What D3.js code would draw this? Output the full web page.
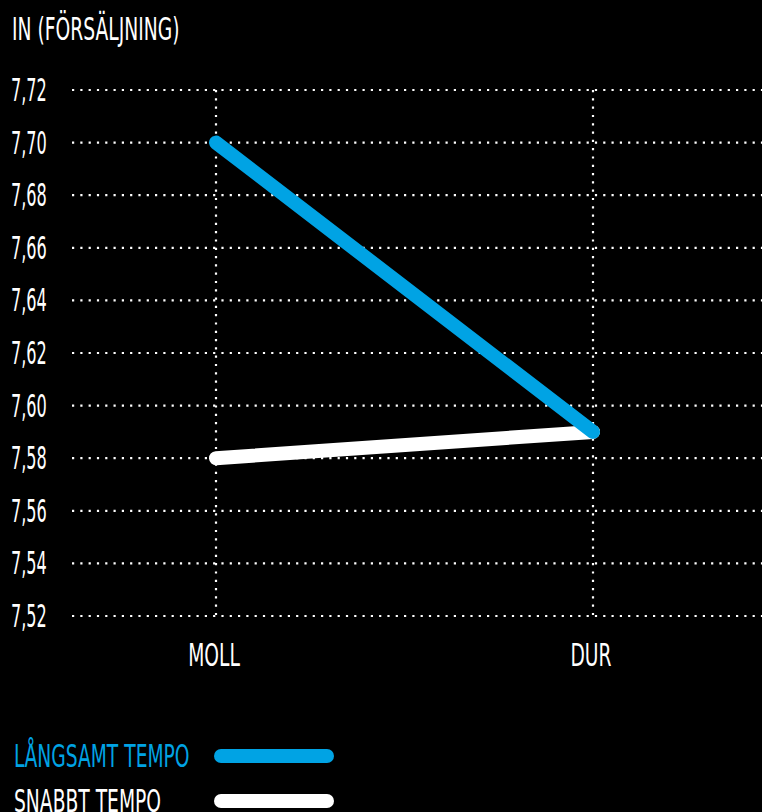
<!DOCTYPE html>
<html>
<head>
<meta charset="utf-8">
<script src="https://cdn.jsdelivr.net/npm/d3@7"></script>
<style>
  html, body { margin: 0; padding: 0; background: #000; }
  svg { display: block; }
  text { font-family: "DejaVu Sans Condensed", "DejaVu Sans", sans-serif; font-stretch: condensed; fill: #fff; }
</style>
</head>
<body>
<div id="chart"></div>
<script>
/* data */
const categories = ["MOLL", "DUR"];
const slowTempo = [7.70, 7.59];
const fastTempo = [7.58, 7.59];
const seriesNames = ["LÅNGSAMT TEMPO", "SNABBT TEMPO"];
const yTicks = [7.52, 7.54, 7.56, 7.58, 7.60, 7.62, 7.64, 7.66, 7.68, 7.70, 7.72];
const yTitle = "IN (FÖRSÄLJNING)";

const width = 762, height = 812;
const blue = "#00a3e4";

const svg = d3.select("#chart")
    .append("svg")
        .attr("width", width)
        .attr("height", height);

/* scales */
const x = d3.scalePoint().domain(categories).range([216, 593]);
const y = d3.scaleLinear().domain([7.52, 7.72]).range([616, 90]);

/* helper for the narrow labels */
const label = (g, txt, px, py, anchor, color, sx) => {
    g.append("text")
        .attr("transform", "translate(" + px + "," + py + ") scale(" + (sx || 0.65) + ",1)")
        .attr("text-anchor", anchor)
        .attr("font-size", 32)
        .style("fill", color || "#fff")
        .text(txt);
};

/* horizontal grid */
svg.append("g")
    .selectAll("line")
    .data(yTicks)
    .join("line")
        .attr("x1", 72)
        .attr("x2", width)
        .attr("y1", d => y(d))
        .attr("y2", d => y(d))
        .attr("stroke", "#fff")
        .attr("stroke-width", 2.2)
        .attr("stroke-dasharray", "2.2 6.1");

/* vertical grid */
svg.append("g")
    .selectAll("line")
    .data(categories)
    .join("line")
        .attr("x1", d => x(d))
        .attr("x2", d => x(d))
        .attr("y1", y(7.72))
        .attr("y2", y(7.52))
        .attr("stroke", "#fff")
        .attr("stroke-width", 2.2)
        .attr("stroke-dasharray", "2.2 6.1");

/* y tick labels */
const yLab = svg.append("g");
yTicks.forEach(t => {
    label(yLab, d3.format(".2f")(t).replace(".", ","), 11, y(t) + 11, "start", "#fff", 0.56);
});

/* y title */
label(svg, yTitle, 12, 40, "start");

/* x labels */
const xLab = svg.append("g");
categories.forEach(c => {
    label(xLab, c, x(c) - 2, 666, "middle");
});

/* lines */
const line = d3.line()
    .x((d, i) => x(categories[i]))
    .y(d => y(d));

svg.append("path")
    .datum(fastTempo)
    .attr("d", line)
    .attr("fill", "none")
    .attr("stroke", "#fff")
    .attr("stroke-width", 14)
    .attr("stroke-linecap", "round");

svg.append("path")
    .datum(slowTempo)
    .attr("d", line)
    .attr("fill", "none")
    .attr("stroke", blue)
    .attr("stroke-width", 14)
    .attr("stroke-linecap", "round");

/* legend */
const legend = svg.append("g");
const legendColors = [blue, "#fff"];
seriesNames.forEach((n, i) => {
    const ly = 756 + i * 45;
    label(legend, n, 14, ly + 11, "start", legendColors[i]);
    legend.append("line")
        .attr("x1", 221)
        .attr("x2", 327)
        .attr("y1", ly)
        .attr("y2", ly)
        .attr("stroke", legendColors[i])
        .attr("stroke-width", 14)
        .attr("stroke-linecap", "round");
});
</script>
</body>
</html>
